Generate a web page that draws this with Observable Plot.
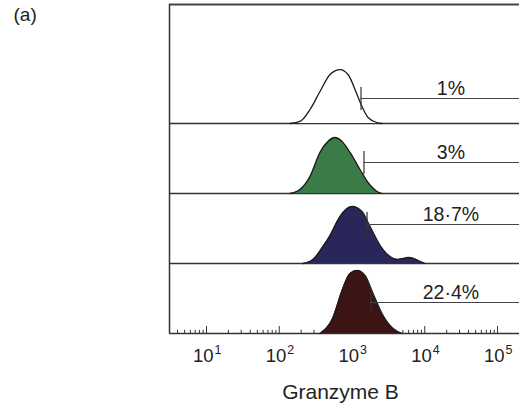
<!DOCTYPE html>
<html>
<head>
<meta charset="utf-8">
<script src="https://cdn.jsdelivr.net/npm/d3@7"></script>
<script src="https://cdn.jsdelivr.net/npm/@observablehq/plot@0.6"></script>
<style>
  html, body { margin: 0; padding: 0; background: #fff; }
  svg { display: block; }
</style>
</head>
<body>
<div id="chart"></div>
<script>
// ---- data ----
const series = ["Isotype", "Sample 1", "Sample 2", "Sample 3"];
const percentLabels = ["1%", "3%", "18·7%", "22·4%"];
const gateValues = [1330, 1460, 1610, 1820]; // Granzyme B intensity of gate start

const logs1 = [2.148, 2.285, 2.423, 2.560, 2.698, 2.835, 2.945, 3.069, 3.137, 3.220, 3.344, 3.412];
const dens1 = [0, 0.03, 0.2, 0.457, 0.7, 0.77, 0.7, 0.414, 0.243, 0.086, 0.014, 0];

const logs2 = [2.148, 2.285, 2.423, 2.560, 2.670, 2.766, 2.863, 2.973, 3.110, 3.220, 3.344, 3.412];
const dens2 = [0, 0.057, 0.243, 0.586, 0.743, 0.8, 0.743, 0.586, 0.343, 0.157, 0.029, 0];

const logs3 = [2.326, 2.464, 2.601, 2.698, 2.835, 3.0, 3.137, 3.247, 3.385, 3.522, 3.619, 3.701, 3.770, 3.852, 3.935, 4.003];
const dens3 = [0, 0.057, 0.243, 0.4, 0.67, 0.814, 0.743, 0.53, 0.26, 0.1, 0.057, 0.07, 0.086, 0.07, 0.03, 0];

const logs4 = [2.560, 2.739, 2.863, 2.973, 3.069, 3.179, 3.289, 3.412, 3.564, 3.687];
const dens4 = [0, 0.23, 0.614, 0.857, 0.9, 0.83, 0.571, 0.286, 0.071, 0];

const majorTicks = [10, 100, 1000, 10000, 100000];
const tickBase = ["10", "10", "10", "10", "10"];
const tickExp = ["1", "2", "3", "4", "5"];
const axisTitle = "Granzyme B";
const panelTag = "(a)";

// ---- layout ----
const colors = ["#ffffff", "#3b7b48", "#29265a", "#3c1413"];
const bases = [3, 2, 1, 0];           // stacking offsets (panel units)
const gateLevels = [                   // [low, high, mid] relative to panel base
  [0.186, 0.514, 0.357],
  [0.27, 0.6, 0.443],
  [0.386, 0.73, 0.557],
  [0.286, 0.586, 0.443]
];
const xDomain = [Math.pow(10, 0.4914), Math.pow(10, 5.302)];
const yTop = 4.7;

const allLogs = [logs1, logs2, logs3, logs4];
const allDens = [dens1, dens2, dens3, dens4];
const rows = [];
series.forEach((s, i) => {
  allLogs[i].forEach((l, j) => {
    rows.push({series: s, base: bases[i], x: Math.pow(10, l), h: allDens[i][j]});
  });
});
const gates = series.map((s, i) => ({
  series: s, x: gateValues[i], base: bases[i],
  lo: gateLevels[i][0], hi: gateLevels[i][1], mid: gateLevels[i][2],
  label: percentLabels[i]
}));

const minorTicks = [];
for (let e = 0; e <= 5; e++) {
  for (let m = 2; m <= 9; m++) {
    const v = m * Math.pow(10, e);
    if (v > xDomain[0] && v < xDomain[1] * 0.98) minorTicks.push(v);
  }
}
const majors = majorTicks.map((v, i) => ({x: v, base: tickBase[i], exp: tickExp[i]}));

const font = "'Liberation Sans', Arial, Helvetica, sans-serif";
const ink = "#222";

const chart = Plot.plot({
  width: 519,
  height: 403,
  marginLeft: 169,
  marginRight: 0,
  marginTop: 4,
  marginBottom: 70,
  style: {fontFamily: font, background: "#fff", overflow: "visible"},
  x: {type: "log", domain: xDomain, axis: null},
  y: {domain: [0, yTop], axis: null},
  color: {type: "ordinal", domain: series, range: colors},
  marks: [
    // axis ticks (pointing up into the plot)
    Plot.ruleX(minorTicks, {x: d => d, y1: 0, y2: 0.045, stroke: "#333", strokeWidth: 1}),
    Plot.ruleX(majorTicks, {x: d => d, y1: 0, y2: 0.1, stroke: "#333", strokeWidth: 1}),
    // panel baselines
    Plot.ruleY(bases, {y: d => d, stroke: "#333", strokeWidth: 1.3}),
    // top and left frame
    Plot.ruleY([yTop], {y: d => d, stroke: "#444", strokeWidth: 1.8}),
    Plot.ruleX([xDomain[0]], {x: d => d, y1: 0, y2: yTop, stroke: "#333", strokeWidth: 1.5}),
    // histograms
    Plot.areaY(rows, {x: "x", y1: "base", y2: d => d.base + d.h, z: "series", fill: "series", curve: "monotone-x"}),
    Plot.line(rows, {x: "x", y: d => d.base + d.h, z: "series", stroke: "#1b1b1b", strokeWidth: 1.3, curve: "monotone-x"}),
    // gates
    Plot.ruleX(gates, {x: "x", y1: d => d.base + d.lo, y2: d => d.base + d.hi, stroke: "#333", strokeWidth: 1.2}),
    Plot.ruleY(gates, {y: d => d.base + d.mid, x1: "x", x2: () => xDomain[1], stroke: "#444", strokeWidth: 1.2}),
    Plot.text(gates, {x: () => Math.pow(10, 4.36), y: d => d.base + d.mid, text: "label", dy: -10,
      fontSize: 19.5, fill: ink, textAnchor: "middle"}),
    // tick labels
    Plot.text(majors, {x: "x", y: () => 0, text: "base", textAnchor: "end", lineAnchor: "bottom",
      dx: 7, dy: 28, fontSize: 18.5, fill: ink}),
    Plot.text(majors, {x: "x", y: () => 0, text: "exp", textAnchor: "start", lineAnchor: "bottom",
      dx: 8, dy: 20, fontSize: 12.5, fill: ink}),
    // axis title
    Plot.text([axisTitle], {frameAnchor: "bottom", text: d => d, lineAnchor: "bottom",
      dx: -4, dy: 65, fontSize: 21, fill: ink}),
    // panel tag
    Plot.text([panelTag], {frameAnchor: "top-left", text: d => d, textAnchor: "start", lineAnchor: "bottom",
      dx: -156, dy: 16, fontSize: 19, fill: ink})
  ]
});
document.getElementById("chart").appendChild(chart);
</script>
</body>
</html>
